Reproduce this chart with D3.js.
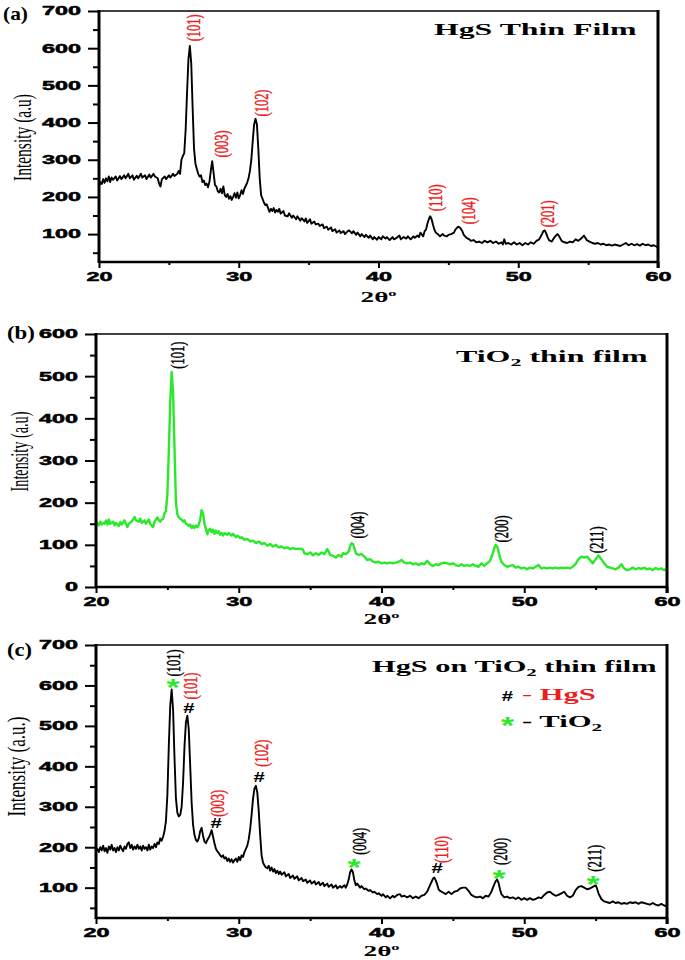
<!DOCTYPE html>
<html>
<head>
<meta charset="utf-8">
<script src="https://cdn.jsdelivr.net/npm/d3@7"></script>
<style>
  body { margin: 0; background: #fff; }
</style>
</head>
<body>
<script>
// 2theta (deg), intensity (a.u)
const hgsScan = [
  [20.0,228],[20.1,240],[20.2,235],[20.3,248],[20.4,238],[20.5,250],[20.6,242],[20.7,255],[20.8,240],[20.9,252],
  [21.0,246],[21.2,255],[21.3,244],[21.5,256],[21.6,248],[21.8,258],[21.9,250],[22.1,262],[22.2,250],[22.4,258],
  [22.5,246],[22.7,257],[22.8,250],[23.0,262],[23.1,252],[23.3,258],[23.4,248],[23.6,260],[23.7,252],[23.9,262],
  [24.0,255],[24.2,250],[24.3,236],[24.4,228],[24.5,248],[24.7,255],[24.8,248],[25.0,258],[25.1,252],[25.3,262],
  [25.4,256],[25.6,262],[25.7,270],[25.8,262],[25.9,300],[26.0,310],[26.1,318],[26.2,380],[26.3,480],[26.4,570],
  [26.5,606],[26.6,560],[26.7,440],[26.8,330],[26.9,290],[27.0,275],[27.1,262],[27.2,255],[27.3,258],[27.4,240],
  [27.5,244],[27.6,232],[27.7,236],[27.8,226],[27.9,240],[28.0,270],[28.1,296],[28.2,265],[28.3,232],[28.4,228],
  [28.5,215],[28.6,212],[28.7,222],[28.8,210],[28.9,228],[29.0,205],[29.1,200],[29.2,208],[29.3,195],[29.4,202],
  [29.5,192],[29.6,200],[29.7,210],[29.8,198],[29.9,212],[30.0,196],[30.1,205],[30.2,218],[30.3,208],[30.4,222],
  [30.5,230],[30.6,238],[30.7,250],[30.8,270],[30.9,300],[31.0,350],[31.1,395],[31.2,410],[31.3,395],[31.4,330],
  [31.5,250],[31.6,205],[31.7,195],[31.8,185],[31.9,178],[32.0,180],[32.1,170],[32.2,160],[32.3,168],[32.4,162],
  [32.5,170],[32.6,158],[32.7,165],[32.8,160],[32.9,168],[33.0,155],[33.2,162],[33.3,150],[33.5,148],[33.6,156],
  [33.8,144],[33.9,150],[34.1,140],[34.2,148],[34.4,136],[34.5,143],[34.7,134],[34.8,142],[34.9,130],[35.1,140],
  [35.2,128],[35.4,134],[35.5,126],[35.7,128],[35.8,122],[36.0,126],[36.1,116],[36.3,120],[36.4,112],[36.6,118],
  [36.7,108],[36.9,113],[37.0,104],[37.2,110],[37.3,103],[37.5,108],[37.6,100],[37.8,108],[37.9,110],[38.1,102],
  [38.2,108],[38.4,98],[38.5,104],[38.7,94],[38.8,100],[39.0,92],[39.1,98],[39.3,90],[39.4,96],[39.6,86],
  [39.7,92],[39.9,85],[40.0,92],[40.2,86],[40.3,94],[40.5,88],[40.6,92],[40.8,84],[41.0,92],[41.1,86],
  [41.3,90],[41.5,96],[41.6,86],[41.8,92],[42.0,88],[42.1,94],[42.3,86],[42.5,94],[42.6,90],[42.8,96],
  [42.9,92],[43.0,104],[43.2,94],[43.3,108],[43.4,112],[43.5,128],[43.6,140],[43.7,148],[43.8,140],[43.9,125],
  [44.0,112],[44.1,104],[44.3,98],[44.4,94],[44.6,100],[44.7,96],[44.9,94],[45.0,98],[45.2,100],[45.4,104],
  [45.5,112],[45.6,116],[45.7,120],[45.8,118],[45.9,114],[46.0,108],[46.1,98],[46.3,90],[46.5,86],[46.6,82],
  [46.8,84],[47.0,78],[47.2,80],[47.4,76],[47.6,82],[47.8,78],[48.0,82],[48.2,76],[48.4,80],[48.6,74],
  [48.8,78],[48.9,72],[49.0,86],[49.1,74],[49.3,76],[49.5,72],[49.7,78],[49.9,72],[50.1,76],[50.3,70],
  [50.5,76],[50.7,72],[50.9,78],[51.1,74],[51.3,82],[51.5,86],[51.7,100],[51.8,108],[51.9,110],[52.0,102],
  [52.1,92],[52.2,84],[52.4,80],[52.6,92],[52.8,100],[52.9,96],[53.1,82],[53.3,78],[53.5,76],[53.7,80],
  [53.9,78],[54.1,86],[54.3,82],[54.5,88],[54.7,96],[54.9,84],[55.1,80],[55.3,76],[55.5,74],[55.7,76],
  [55.9,72],[56.1,74],[56.3,70],[56.5,72],[56.7,69],[56.9,72],[57.1,70],[57.3,68],[57.5,72],[57.7,76],
  [57.9,70],[58.1,74],[58.3,70],[58.5,73],[58.7,69],[58.9,74],[59.1,70],[59.3,72],[59.5,68],[59.7,70],
  [59.9,66],[60.0,68]
];

const tio2Scan = [
  [20.0,148],[20.1,152],[20.2,146],[20.3,155],[20.4,148],[20.5,152],[20.6,150],[20.7,158],[20.8,148],[20.9,160],
  [21.0,150],[21.2,155],[21.3,146],[21.4,152],[21.6,145],[21.7,154],[21.8,148],[22.0,158],[22.1,150],[22.2,142],
  [22.3,150],[22.5,155],[22.6,160],[22.7,166],[22.8,158],[23.0,155],[23.1,162],[23.2,152],[23.4,158],[23.5,150],
  [23.7,160],[23.8,150],[24.0,142],[24.1,155],[24.2,160],[24.3,165],[24.4,158],[24.5,155],[24.6,160],[24.7,162],
  [24.8,175],[24.9,180],[25.0,220],[25.1,320],[25.2,440],[25.3,510],[25.4,460],[25.5,330],[25.6,200],[25.7,172],
  [25.8,165],[25.9,162],[26.0,160],[26.1,155],[26.2,158],[26.3,150],[26.4,148],[26.5,145],[26.6,148],[26.7,140],
  [26.8,145],[26.9,140],[27.0,146],[27.1,142],[27.2,148],[27.3,160],[27.4,182],[27.5,175],[27.6,150],[27.7,138],
  [27.8,125],[27.9,135],[28.0,138],[28.1,130],[28.2,136],[28.3,126],[28.4,134],[28.5,128],[28.6,132],[28.7,124],
  [28.8,128],[28.9,122],[29.0,128],[29.2,124],[29.3,128],[29.5,122],[29.6,126],[29.8,118],[29.9,122],[30.1,116],
  [30.2,118],[30.4,112],[30.6,114],[30.8,108],[31.0,110],[31.2,104],[31.4,108],[31.6,102],[31.8,104],[32.0,98],
  [32.2,102],[32.4,96],[32.6,100],[32.8,94],[33.0,96],[33.2,92],[33.4,94],[33.6,90],[33.8,92],[34.0,90],
  [34.2,91],[34.4,90],[34.5,88],[34.6,80],[34.8,78],[35.0,82],[35.2,75],[35.4,80],[35.6,76],[35.8,82],
  [36.0,78],[36.1,84],[36.2,90],[36.3,84],[36.4,76],[36.6,74],[36.8,70],[37.0,76],[37.2,72],[37.3,80],
  [37.5,78],[37.7,84],[37.8,96],[37.9,104],[38.0,102],[38.1,92],[38.2,80],[38.4,76],[38.6,78],[38.8,72],
  [39.0,64],[39.2,66],[39.4,60],[39.6,58],[39.8,60],[40.0,56],[40.2,58],[40.4,56],[40.6,58],[40.8,56],
  [41.0,58],[41.2,60],[41.4,64],[41.6,58],[41.8,56],[42.0,58],[42.2,54],[42.4,56],[42.6,52],[42.8,56],
  [43.0,54],[43.2,62],[43.4,54],[43.6,50],[43.8,54],[44.0,52],[44.2,56],[44.4,58],[44.6,56],[44.8,54],
  [45.0,56],[45.2,52],[45.4,50],[45.6,54],[45.8,50],[46.0,52],[46.2,50],[46.4,54],[46.6,50],[46.8,48],
  [47.0,56],[47.2,50],[47.4,56],[47.6,62],[47.8,80],[47.9,92],[48.0,100],[48.1,96],[48.2,84],[48.3,70],
  [48.4,60],[48.6,52],[48.8,48],[49.0,50],[49.2,52],[49.4,46],[49.6,48],[49.8,44],[50.0,46],[50.2,42],
  [50.4,46],[50.6,44],[50.8,48],[51.0,52],[51.2,44],[51.4,46],[51.6,44],[51.8,46],[52.0,44],[52.2,46],
  [52.4,44],[52.6,46],[52.8,45],[53.0,46],[53.2,44],[53.4,48],[53.6,55],[53.8,66],[54.0,72],[54.2,70],
  [54.4,72],[54.6,64],[54.8,56],[55.0,66],[55.2,75],[55.4,66],[55.6,56],[55.8,48],[56.0,46],[56.2,44],
  [56.4,42],[56.6,46],[56.8,54],[57.0,44],[57.2,40],[57.4,42],[57.6,46],[57.8,42],[58.0,45],[58.2,43],
  [58.4,46],[58.6,42],[58.8,44],[59.0,40],[59.2,45],[59.4,42],[59.6,44],[59.8,40],[60.0,45]
];

const hgsOnTio2Scan = [
  [20.0,190],[20.1,196],[20.2,188],[20.3,200],[20.4,192],[20.5,204],[20.6,190],[20.7,198],[20.8,186],[20.9,202],
  [21.0,194],[21.1,206],[21.2,192],[21.3,198],[21.4,188],[21.5,200],[21.6,192],[21.7,204],[21.8,196],[21.9,190],
  [22.0,202],[22.1,196],[22.2,208],[22.3,212],[22.4,198],[22.5,206],[22.6,194],[22.7,202],[22.8,196],[22.9,206],
  [23.0,196],[23.1,202],[23.2,192],[23.3,204],[23.4,196],[23.5,200],[23.6,192],[23.7,206],[23.8,194],[23.9,202],
  [24.0,198],[24.1,208],[24.2,200],[24.3,212],[24.4,208],[24.5,222],[24.6,216],[24.7,226],[24.8,240],[24.9,265],
  [25.0,330],[25.1,450],[25.2,550],[25.3,590],[25.4,540],[25.5,420],[25.6,320],[25.7,285],[25.8,276],[25.9,280],
  [26.0,300],[26.1,360],[26.2,450],[26.3,510],[26.4,525],[26.5,490],[26.6,400],[26.7,310],[26.8,255],[26.9,230],
  [27.0,218],[27.1,214],[27.2,222],[27.3,240],[27.4,248],[27.5,228],[27.6,214],[27.7,210],[27.8,218],[27.9,224],
  [28.0,232],[28.1,242],[28.2,226],[28.3,210],[28.4,196],[28.5,190],[28.6,186],[28.7,180],[28.8,176],[28.9,180],
  [29.0,172],[29.1,175],[29.2,166],[29.3,172],[29.4,164],[29.5,170],[29.6,162],[29.7,168],[29.8,172],[29.9,164],
  [30.0,176],[30.1,168],[30.2,180],[30.3,176],[30.4,188],[30.5,196],[30.6,204],[30.7,220],[30.8,245],[30.9,280],
  [31.0,320],[31.1,345],[31.2,352],[31.3,335],[31.4,290],[31.5,230],[31.6,180],[31.7,162],[31.8,155],[31.9,150],
  [32.0,148],[32.1,154],[32.2,142],[32.3,150],[32.4,140],[32.5,146],[32.6,136],[32.7,142],[32.8,134],[32.9,140],
  [33.0,132],[33.2,138],[33.3,128],[33.5,134],[33.6,124],[33.8,130],[33.9,122],[34.1,128],[34.2,118],[34.4,124],
  [34.5,116],[34.7,120],[34.8,112],[35.0,118],[35.1,110],[35.3,116],[35.4,108],[35.6,114],[35.7,106],[35.9,112],
  [36.0,104],[36.2,110],[36.3,102],[36.5,108],[36.6,100],[36.8,106],[36.9,98],[37.1,104],[37.2,100],[37.4,106],
  [37.5,100],[37.6,108],[37.7,120],[37.8,138],[37.9,145],[38.0,138],[38.1,118],[38.2,106],[38.3,110],[38.5,100],
  [38.6,104],[38.8,96],[38.9,98],[39.1,92],[39.2,94],[39.4,88],[39.5,90],[39.7,84],[39.8,86],[40.0,80],
  [40.1,84],[40.3,76],[40.4,80],[40.6,74],[40.8,80],[40.9,76],[41.1,82],[41.3,84],[41.4,78],[41.6,80],
  [41.8,76],[42.0,80],[42.2,74],[42.4,78],[42.6,74],[42.8,80],[43.0,82],[43.2,90],[43.4,106],[43.5,114],
  [43.6,122],[43.7,125],[43.8,118],[43.9,108],[44.0,96],[44.1,92],[44.3,88],[44.5,84],[44.7,90],[44.9,84],
  [45.1,90],[45.3,92],[45.5,98],[45.7,100],[45.9,100],[46.1,92],[46.3,82],[46.5,78],[46.7,76],[46.9,78],
  [47.1,74],[47.3,80],[47.5,78],[47.7,90],[47.9,108],[48.0,116],[48.1,120],[48.2,112],[48.3,96],[48.4,84],
  [48.6,76],[48.8,78],[49.0,74],[49.2,76],[49.4,72],[49.6,76],[49.8,70],[50.0,74],[50.2,70],[50.4,74],
  [50.6,70],[50.8,72],[51.0,76],[51.2,74],[51.4,82],[51.6,88],[51.8,90],[52.0,84],[52.2,80],[52.4,82],
  [52.6,86],[52.8,90],[53.0,80],[53.2,76],[53.4,80],[53.6,94],[53.8,102],[54.0,104],[54.2,100],[54.4,96],
  [54.6,98],[54.8,102],[55.0,106],[55.1,98],[55.2,86],[55.4,72],[55.6,66],[55.8,64],[56.0,62],[56.2,66],
  [56.4,62],[56.6,64],[56.8,60],[57.0,62],[57.2,60],[57.4,64],[57.6,62],[57.8,64],[58.0,60],[58.2,64],
  [58.4,62],[58.6,60],[58.8,58],[59.0,62],[59.2,58],[59.4,56],[59.6,60],[59.8,56],[60.0,54]
];

// peak labels: hkl, 2theta, intensity level where the label starts
const hgsPeaks = [
  ["(101)",26.73,617],["(003)",28.73,305],["(102)",31.59,415],
  ["(110)",44.1,160],["(104)",46.4,125],["(201)",52.06,117]
];
const tio2Peaks = [
  ["(101)",25.67,519],["(004)",38.32,116],["(200)",48.37,107],["(211)",55.03,81]
];
const mixTio2Peaks = [
  ["(101)",25.39,621],["(004)",38.42,180],["(200)",48.3,155],["(211)",54.88,138]
];
const mixHgsPeaks = [
  ["(101)",26.58,564],["(003)",28.48,274],["(102)",31.56,398],["(110)",44.17,160]
];
// phase markers: 2theta, intensity
const hashMarks = [[26.51,544],[28.41,259],[31.42,373],[43.89,148]];
const starMarks = [[25.39,606],[38.07,160],[48.23,135],[54.82,120]];

const xTicks = [20, 30, 40, 50, 60];
const xMinor = [25, 35, 45, 55];

const GREEN = "#2be82b";
const RED = "#ee1c1c";
const SERIF = "'Liberation Serif', 'Times New Roman', serif";
const SANS = "'Liberation Sans', Arial, sans-serif";

const svg = d3.select("body").append("svg")
  .attr("width", 685).attr("height", 960)
  .style("background", "#fff");

// stretch a horizontal text so it covers a given width
function fitText(t, x, y, w) {
  let bw = t.node().getBBox().width;
  t.attr("transform", `translate(${x},${y}) scale(${w / bw},1)`);
}

function vertLabel(g, txt, cx, cy, len, size, color, sx) {
  return g.append("text")
    .attr("transform", `translate(${cx},${cy}) scale(${sx},1) rotate(-90)`)
    .attr("text-anchor", "middle")
    .attr("dy", "0.35em")
    .attr("font-family", SERIF)
    .attr("font-size", size)
    .attr("fill", color)
    .attr("textLength", len)
    .attr("lengthAdjust", "spacingAndGlyphs")
    .text(txt);
}

function peakLabel(g, txt, cx, cy, color) {
  vertLabel(g, txt, cx, cy, 27, 13, color, 1.45)
    .attr("stroke", color).attr("stroke-width", 0.35);
}

function drawPanel(p) {
  let x = d3.scaleLinear().domain([20, 60]).range([p.left, p.right]);
  let y = d3.scaleLinear().domain(p.yDomain).range([p.bottom, p.top]);
  let g = svg.append("g");

  // x axis
  g.append("g").attr("transform", `translate(0,${p.bottom})`)
    .call(d3.axisBottom(x).tickValues(xMinor).tickSize(3).tickFormat(""))
    .call(s => s.select(".domain").remove());
  let gx = g.append("g").attr("transform", `translate(0,${p.bottom})`)
    .call(d3.axisBottom(x).tickValues(xTicks).tickSize(6).tickFormat(d3.format("d")));
  gx.select(".domain").remove();
  gx.selectAll(".tick text")
    .attr("y", 10)
    .attr("transform", "scale(1.95,1)")
    .attr("font-family", SANS).attr("font-weight", "bold").attr("font-size", 12)
    .attr("fill", "#000").attr("stroke", "#000").attr("stroke-width", 0.5);

  // y axis
  g.append("g").attr("transform", `translate(${p.left},0)`)
    .call(d3.axisLeft(y).tickValues(p.yMinor).tickSize(6).tickFormat(""))
    .call(s => s.select(".domain").remove());
  let gy = g.append("g").attr("transform", `translate(${p.left},0)`)
    .call(d3.axisLeft(y).tickValues(p.yTicks).tickSize(11).tickFormat(d3.format("d")));
  gy.select(".domain").remove();
  gy.selectAll(".tick text")
    .attr("x", -18 / 1.95)
    .attr("transform", "scale(1.95,1)")
    .attr("font-family", SANS).attr("font-weight", "bold").attr("font-size", 12)
    .attr("fill", "#000").attr("stroke", "#000").attr("stroke-width", 0.5);
  g.selectAll(".tick line").attr("stroke", "#000").attr("stroke-width", 2);

  // data
  let line = d3.line().x(d => x(d[0])).y(d => y(d[1]));
  g.append("path").datum(p.data)
    .attr("d", line)
    .attr("fill", "none")
    .attr("stroke", p.color)
    .attr("stroke-width", p.lineWidth)
    .attr("stroke-linejoin", "round");

  // frame
  g.append("line").attr("x1", p.left).attr("x2", p.right).attr("y1", p.top).attr("y2", p.top)
    .attr("stroke", "#000").attr("stroke-width", 1.6);
  g.append("line").attr("x1", p.left).attr("x2", p.right).attr("y1", p.bottom).attr("y2", p.bottom)
    .attr("stroke", "#000").attr("stroke-width", 2.4);
  g.append("line").attr("x1", p.left).attr("x2", p.left).attr("y1", p.top - 1).attr("y2", p.bottom + 1)
    .attr("stroke", "#000").attr("stroke-width", 3);
  g.append("line").attr("x1", p.right).attr("x2", p.right).attr("y1", p.top - 1).attr("y2", p.bottom + 6)
    .attr("stroke", "#000").attr("stroke-width", 3);

  // axis titles
  let xt = g.append("text")
    .attr("font-family", SERIF).attr("font-weight", "bold").attr("font-size", 15);
  xt.append("tspan").text("2θ");
  xt.append("tspan").attr("dy", -6).attr("font-size", 9).text("o");
  fitText(xt, (p.left + p.right) / 2 - 18, p.xTitleY, 37);

  vertLabel(g, p.yTitle, p.yTitleX, (p.top + p.bottom) / 2 + p.yTitleShift, p.yTitleLen, 15, "#000", 1.65);

  // panel letter
  let lt = g.append("text")
    .attr("font-family", SERIF).attr("font-weight", "bold").attr("font-size", 19)
    .text(p.letter);
  fitText(lt, p.letterX, p.letterY, p.letterW);

  return { x, y, g };
}

// ---------- panel (a)
let a = drawPanel({
  left: 99, right: 658, top: 11, bottom: 262,
  yDomain: [25, 700], yTicks: [100, 200, 300, 400, 500, 600, 700],
  yMinor: [50, 150, 250, 350, 450, 550, 650],
  data: hgsScan, color: "#000", lineWidth: 1.9,
  xTitleY: 302, yTitle: "Intensity (a.u)", yTitleX: 22, yTitleShift: 1, yTitleLen: 87,
  letter: "(a)", letterX: 3, letterY: 20, letterW: 25
});
hgsPeaks.forEach(d => {
  peakLabel(a.g, d[0], a.x(d[1]), a.y(d[2]) - 14, RED);
});
let ta = a.g.append("text").attr("font-family", SERIF).attr("font-weight", "bold").attr("font-size", 16)
  .text("HgS Thin Film");
fitText(ta, 434, 34.5, 204);

// ---------- panel (b)
let b = drawPanel({
  left: 96, right: 667, top: 334, bottom: 587,
  yDomain: [0, 600], yTicks: [0, 100, 200, 300, 400, 500, 600],
  yMinor: [50, 150, 250, 350, 450, 550],
  data: tio2Scan, color: GREEN, lineWidth: 2.4,
  xTitleY: 624, yTitle: "Intensity (a.u)", yTitleX: 19, yTitleShift: -9, yTitleLen: 80,
  letter: "(b)", letterX: 7, letterY: 339, letterW: 28
});
tio2Peaks.forEach(d => {
  peakLabel(b.g, d[0], b.x(d[1]), b.y(d[2]) - 13, "#000");
});
let tb = b.g.append("text").attr("font-family", SERIF).attr("font-weight", "bold").attr("font-size", 16);
tb.append("tspan").text("TiO");
tb.append("tspan").attr("dy", 4).attr("font-size", 11).text("2");
tb.append("tspan").attr("dy", -4).text(" thin film");
fitText(tb, 456, 362, 193);

// ---------- panel (c)
let c = drawPanel({
  left: 96, right: 667, top: 645, bottom: 918,
  yDomain: [25, 700], yTicks: [100, 200, 300, 400, 500, 600, 700],
  yMinor: [50, 150, 250, 350, 450, 550, 650],
  data: hgsOnTio2Scan, color: "#000", lineWidth: 1.9,
  xTitleY: 956, yTitle: "Intensity (a.u.)", yTitleX: 16, yTitleShift: -15, yTitleLen: 100,
  letter: "(c)", letterX: 7, letterY: 656, letterW: 25
});
mixTio2Peaks.forEach(d => {
  peakLabel(c.g, d[0], c.x(d[1]), c.y(d[2]) - 14, "#000");
});
mixHgsPeaks.forEach(d => {
  peakLabel(c.g, d[0], c.x(d[1]), c.y(d[2]) - 14, RED);
});
hashMarks.forEach(d => {
  c.g.append("text")
    .attr("transform", `translate(${c.x(d[0])},${c.y(d[1]) + 5}) scale(1.35,1)`)
    .attr("text-anchor", "middle")
    .attr("font-family", SANS).attr("font-weight", "bold").attr("font-size", 15)
    .attr("fill", "#000").text("#");
});
starMarks.forEach(d => {
  c.g.append("text")
    .attr("transform", `translate(${c.x(d[0])},${c.y(d[1]) + 13}) scale(1.4,1)`)
    .attr("text-anchor", "middle")
    .attr("font-family", SANS).attr("font-weight", "bold").attr("font-size", 24)
    .attr("fill", GREEN).text("*");
});
let tc = c.g.append("text").attr("font-family", SERIF).attr("font-weight", "bold").attr("font-size", 16);
tc.append("tspan").text("HgS on TiO");
tc.append("tspan").attr("dy", 4).attr("font-size", 11).text("2");
tc.append("tspan").attr("dy", -4).text(" thin film");
fitText(tc, 372, 672, 286);

// legend
c.g.append("text")
  .attr("transform", "translate(507.5,701) scale(1.35,1)")
  .attr("text-anchor", "middle")
  .attr("font-family", SANS).attr("font-weight", "bold").attr("font-size", 15)
  .text("#");
let l1 = c.g.append("text").attr("font-family", SERIF).attr("font-weight", "bold").attr("font-size", 16)
  .attr("fill", RED).text("- HgS");
fitText(l1, 522, 700, 74);
c.g.append("text")
  .attr("transform", "translate(507.5,734) scale(1.4,1)")
  .attr("text-anchor", "middle")
  .attr("font-family", SANS).attr("font-weight", "bold").attr("font-size", 24)
  .attr("fill", GREEN).text("*");
let l2 = c.g.append("text").attr("font-family", SERIF).attr("font-weight", "bold").attr("font-size", 16);
l2.append("tspan").text("- TiO");
l2.append("tspan").attr("dy", 4).attr("font-size", 11).text("2");
fitText(l2, 522, 727, 81);
</script>
</body>
</html>
